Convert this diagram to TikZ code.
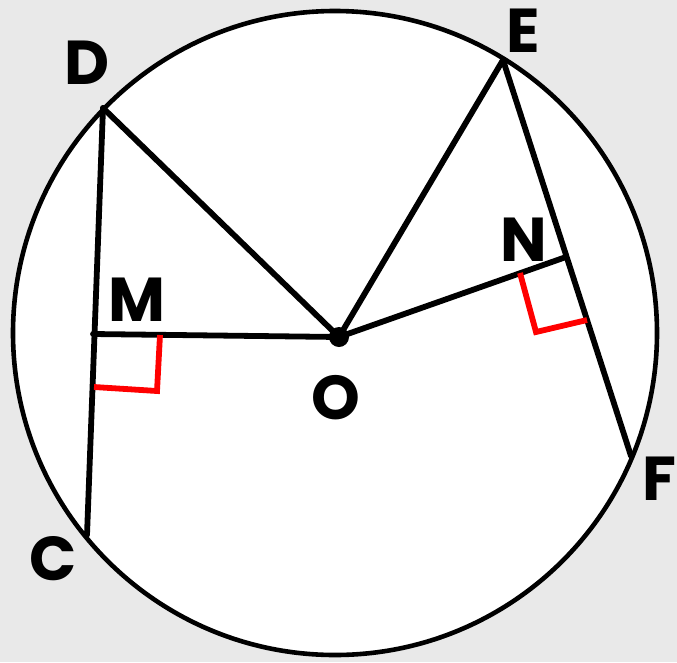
\documentclass[tikz,border=0pt]{standalone}
\usepackage{fontspec}
\setmainfont{Poppins}
\begin{document}
\begin{tikzpicture}[x=1pt,y=-1pt,
  seg/.style={line width=5.8pt,line cap=round,line join=round,black},
  rightmark/.style={line width=5.8pt,red,line join=miter},
  lab/.style={inner sep=0pt,font=\fontsize{62}{62}\selectfont\bfseries}]
\definecolor{bgray}{RGB}{233,233,233}
\fill[bgray] (0,0) rectangle (677,662);
\useasboundingbox (0,0) rectangle (677,662);
\draw[line width=4.6pt,fill=white] (335,333) circle[radius=322pt];
\coordinate (D) at (103,108);
\coordinate (C) at (87,535);
\coordinate (E) at (503,60);
\coordinate (F) at (631,456);
\coordinate (O) at (339,337);
\coordinate (M) at (93,334);
\coordinate (N) at (566,257);
\draw[seg] (D) -- (C);
\draw[seg] (D) -- (O);
\draw[seg] (E) -- (O);
\draw[seg] (E) -- (F);
\draw[seg] (M) -- (O);
\draw[seg] (O) -- (N);
\coordinate (m1) at (160,335);
\coordinate (m2) at (157,391);
\coordinate (m3) at (94,387);
\coordinate (n1) at (520,273);
\coordinate (n2) at (536,332);
\coordinate (n3) at (587,320);
\draw[rightmark] (m1) -- (m2) -- (m3);
\draw[rightmark] (n1) -- (n2) -- (n3);
\fill (O) circle[radius=10pt];
\node[lab] (lD) at (87.5,62.5) {D};
\node[lab] (lE) at (523,30.5) {E};
\node[lab] (lM) at (136.5,299.5) {M};
\node[lab] (lN) at (523.5,240) {N};
\node[lab] (lO) at (335.5,398) {O};
\node[lab] (lC) at (53.5,559) {C};
\node[lab,anchor=east] (lF) at (677,478.5) {F};
\end{tikzpicture}
\end{document}
